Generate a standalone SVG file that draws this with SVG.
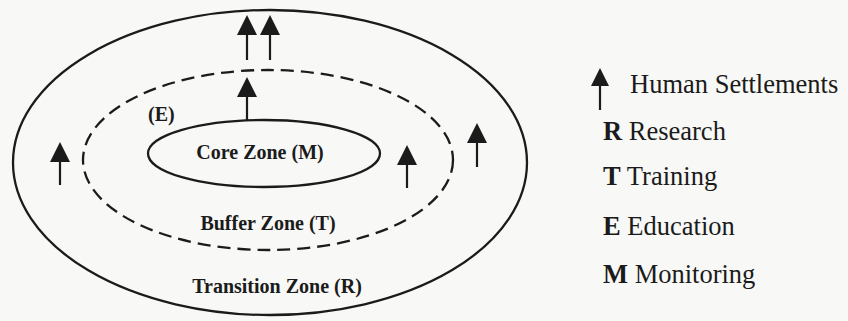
<svg xmlns="http://www.w3.org/2000/svg" xmlns:xlink="http://www.w3.org/1999/xlink" width="848" height="321" viewBox="0 0 848 321">
<style>
.zone{fill:none;stroke:#1b1b1b;stroke-width:2.3}
.dash{stroke-dasharray:13 7}
.lbl{font-weight:bold;fill:#1b1b1b}
.leg{font-size:26.5px;fill:#1b1b1b}
.stem{stroke:#1b1b1b;stroke-width:2.2;fill:none}
.head{fill:#1b1b1b}
</style>
<defs>
<path id="ah" d="M0,0 L10,20 L-10,20 Z"/>
</defs>
<rect width="848" height="321" fill="#f8f8f6"/>
<g font-family="'Liberation Serif', 'DejaVu Serif', 'Times New Roman', serif">
<g id="transition-zone">
<ellipse class="zone" cx="270" cy="162.5" rx="257" ry="152.5"/>
<text class="lbl" x="277" y="293" font-size="20" text-anchor="middle">Transition Zone (R)</text>
</g>
<g id="buffer-zone">
<ellipse class="zone dash" cx="268" cy="160" rx="185" ry="90"/>
<text class="lbl" x="268" y="230" font-size="20" text-anchor="middle">Buffer Zone (T)</text>
<text class="lbl" x="148" y="121" font-size="20">(E)</text>
</g>
<g id="core-zone">
<ellipse class="zone" cx="264" cy="153.5" rx="116" ry="33.5"/>
<text class="lbl" x="260" y="159" font-size="20" text-anchor="middle">Core Zone (M)</text>
</g>
<g id="settlements">
<line class="stem" x1="247" y1="30" x2="247" y2="60"/><use class="head" xlink:href="#ah" x="247" y="15"/>
<line class="stem" x1="270" y1="30" x2="270" y2="60"/><use class="head" xlink:href="#ah" x="270" y="15"/>
<line class="stem" x1="247" y1="92" x2="247" y2="120"/><use class="head" xlink:href="#ah" x="247" y="77"/>
<line class="stem" x1="60" y1="157" x2="60" y2="185"/><use class="head" xlink:href="#ah" x="60" y="142"/>
<line class="stem" x1="407" y1="160" x2="407" y2="188"/><use class="head" xlink:href="#ah" x="407" y="145"/>
<line class="stem" x1="477" y1="138" x2="477" y2="167"/><use class="head" xlink:href="#ah" x="477" y="123"/>
</g>
<g id="legend">
<line class="stem" x1="600" y1="82" x2="600" y2="110"/><path class="head" d="M600,68 L609,86 L591,86 Z"/>
<text class="leg" x="630" y="93">Human Settlements</text>
<text class="leg" x="603" y="140"><tspan font-weight="bold">R</tspan> Research</text>
<text class="leg" x="603" y="185"><tspan font-weight="bold">T</tspan> Training</text>
<text class="leg" x="603" y="235"><tspan font-weight="bold">E</tspan> Education</text>
<text class="leg" x="603" y="283"><tspan font-weight="bold">M</tspan> Monitoring</text>
</g>
</g>
</svg>
